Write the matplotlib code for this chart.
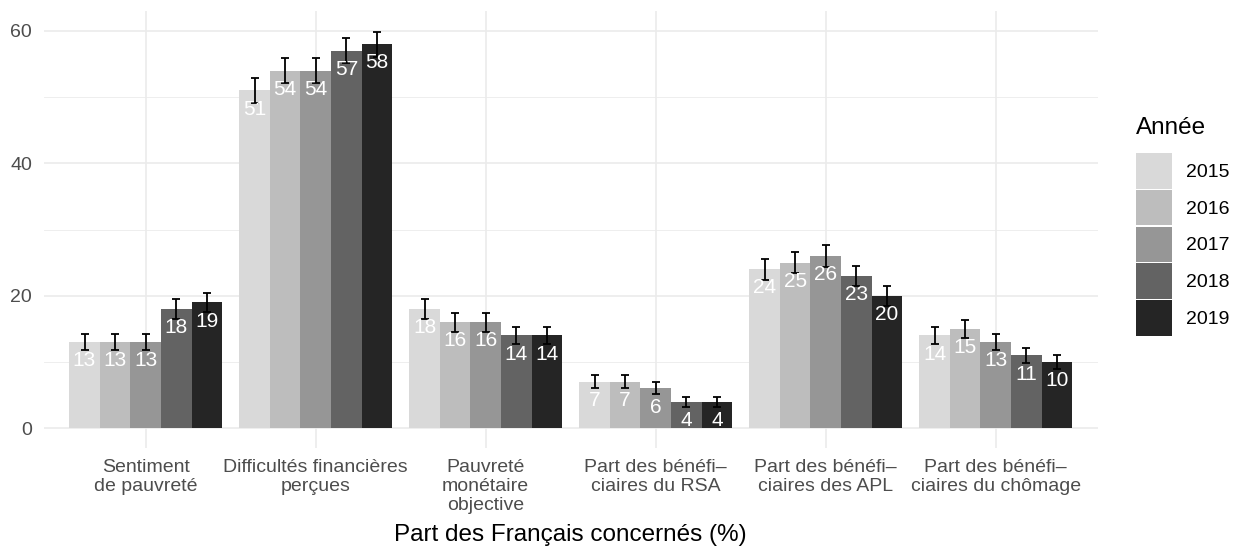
import numpy as np
import matplotlib
matplotlib.use("Agg")
import matplotlib.pyplot as plt
from matplotlib.patches import Patch

plt.rcParams["font.family"] = ["Liberation Sans", "DejaVu Sans"]

# ----------------------------------------------------------------------
# Data
# ----------------------------------------------------------------------
categories = ["Sentiment\nde pauvreté",
              "Difficultés financières\nperçues",
              "Pauvreté\nmonétaire\nobjective",
              "Part des bénéfi–\nciaires du RSA",
              "Part des bénéfi–\nciaires des APL",
              "Part des bénéfi–\nciaires du chômage"]
years = ["2015", "2016", "2017", "2018", "2019"]

v2015 = [13, 51, 18, 7, 24, 14]
v2016 = [13, 54, 16, 7, 25, 15]
v2017 = [13, 54, 16, 6, 26, 13]
v2018 = [18, 57, 14, 4, 23, 11]
v2019 = [19, 58, 14, 4, 20, 10]

e2015 = [1.2, 1.85, 1.5, 0.95, 1.6, 1.3]
e2016 = [1.2, 1.85, 1.45, 0.95, 1.6, 1.4]
e2017 = [1.2, 1.85, 1.45, 0.9, 1.65, 1.2]
e2018 = [1.5, 1.9, 1.35, 0.75, 1.55, 1.15]
e2019 = [1.45, 1.9, 1.35, 0.75, 1.5, 1.1]

values = [v2015, v2016, v2017, v2018, v2019]
errors = [e2015, e2016, e2017, e2018, e2019]
colors = ["#D9D9D9", "#BDBDBD", "#969696", "#636363", "#252525"]

# ----------------------------------------------------------------------
# Figure
# ----------------------------------------------------------------------
W, H = 1234, 550
fig = plt.figure(figsize=(W / 100, H / 100), dpi=100)
ax = fig.add_axes([43.7 / W, (H - 448) / H, (1097.7 - 43.7) / W, (448 - 11) / H])

x = np.arange(len(categories))
bw = 0.18
for i, (vals, errs, col) in enumerate(zip(values, errors, colors)):
    xpos = x + (i - 2) * bw
    ax.bar(xpos, vals, width=bw, color=col, zorder=2)
    ax.errorbar(xpos, vals, yerr=errs, fmt="none", ecolor="black",
                elinewidth=1.3, capsize=2.6, capthick=1.3, zorder=3)
    for xp, v in zip(xpos, vals):
        ax.annotate(str(v), (xp, v), xytext=(0, -13.5), textcoords="offset points",
                    ha="center", va="center", color="white", fontsize=15, zorder=4)

ax.set_xlim(-0.6, len(categories) - 0.4)
ax.set_ylim(-3, 63)
ax.set_yticks([0, 20, 40, 60])
ax.set_yticks([10, 30, 50], minor=True)
ax.set_xticks(x)
ax.set_xticklabels(categories, linespacing=1.15)

for s in ax.spines.values():
    s.set_visible(False)
ax.grid(True, which="major", color="#EBEBEB", linewidth=1.2, zorder=0)
ax.grid(True, which="minor", axis="y", color="#EBEBEB", linewidth=0.6, zorder=0)
ax.set_axisbelow(True)
ax.tick_params(axis="both", which="both", length=0, labelsize=14, labelcolor="#4D4D4D")
ax.tick_params(axis="y", pad=8.4)
ax.tick_params(axis="x", pad=8)

ax.set_xlabel("Part des Français concernés (%)", fontsize=17.5, color="black", labelpad=7)

# legend (title drawn separately to control the gap above the keys)
handles = [Patch(facecolor=c, edgecolor="none", label=y) for c, y in zip(colors, years)]
leg = fig.legend(handles=handles, loc="upper left",
                 bbox_to_anchor=(1136 / W, 1 - 153 / H),
                 frameon=False, fontsize=14, handlelength=1.85,
                 handleheight=2.44, labelspacing=0.06, handletextpad=0.72,
                 borderpad=0, borderaxespad=0)
fig.text(1136 / W, 1 - 128 / H, "Année", fontsize=17.5, ha="left", va="center")

fig.savefig("out.png", dpi=100)
